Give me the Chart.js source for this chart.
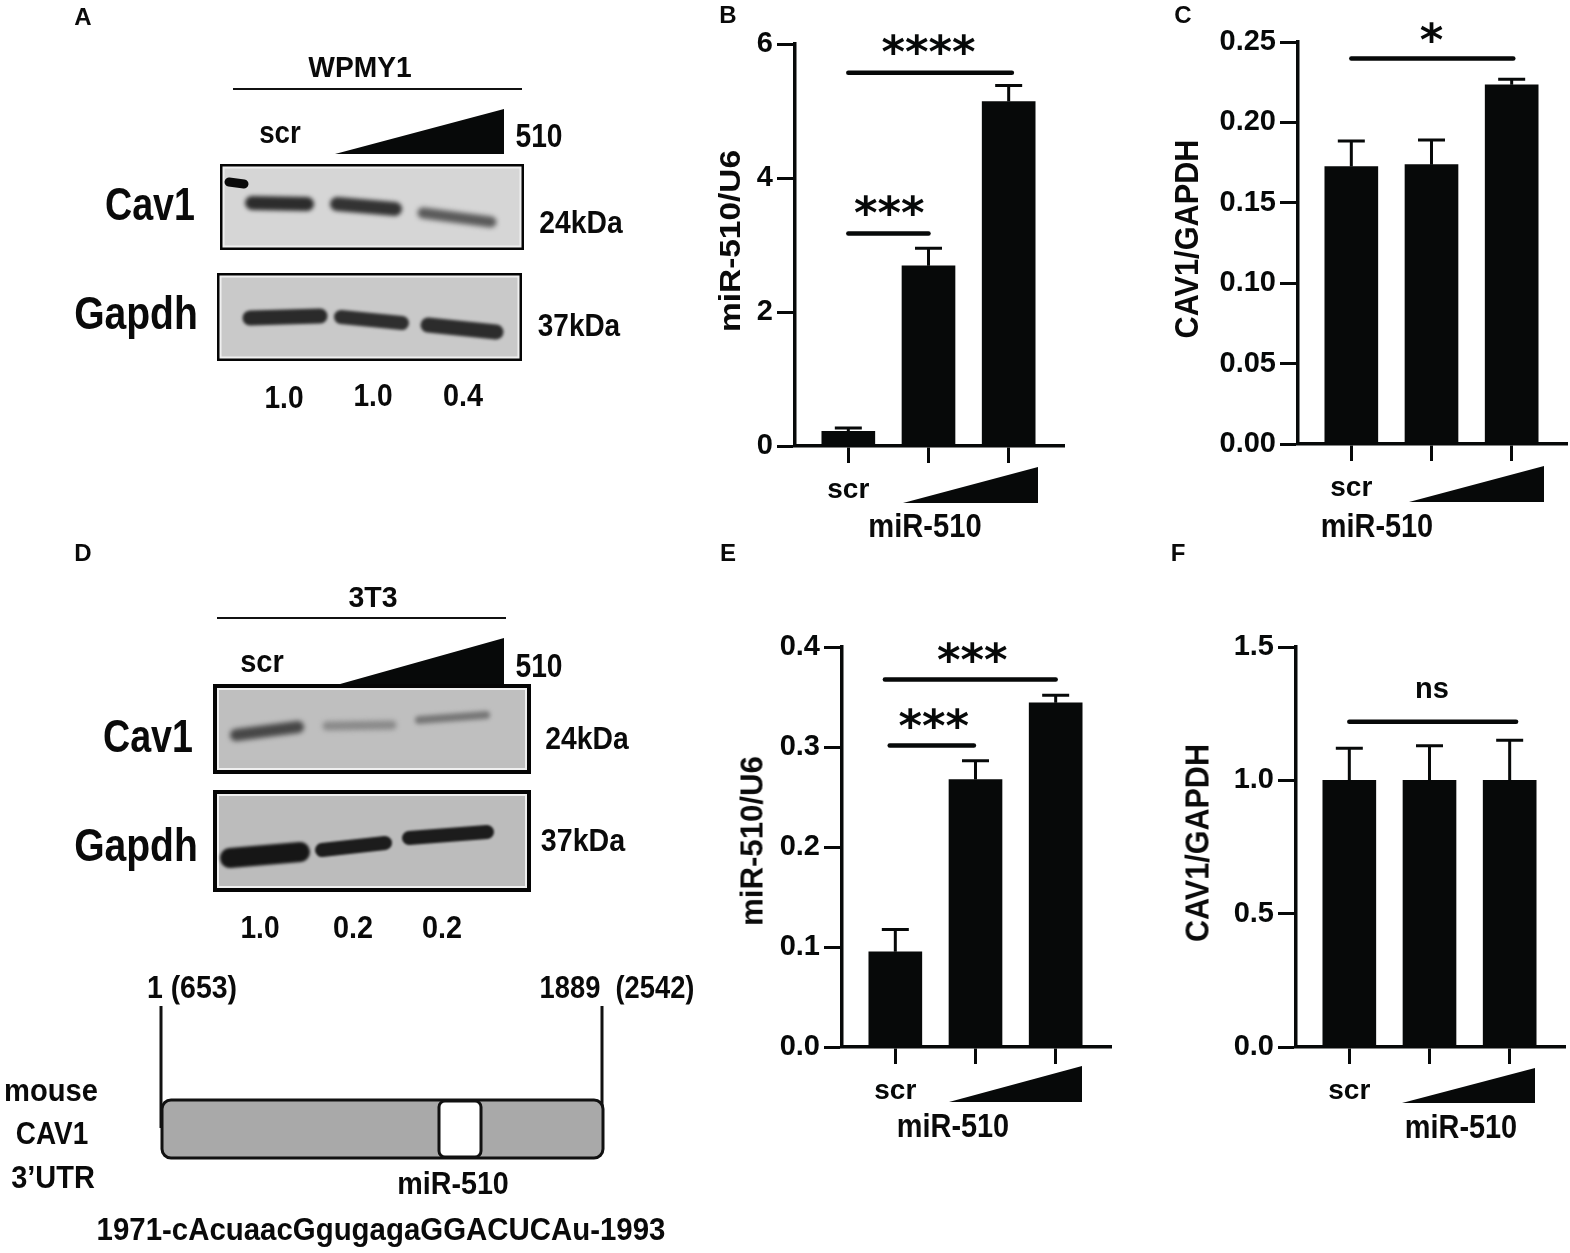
<!DOCTYPE html>
<html>
<head>
<meta charset="utf-8">
<title>miR-510 figure</title>
<script src="https://cdn.jsdelivr.net/npm/chart.js@4"></script>
<style>
    html, body { margin: 0; padding: 0; background: #fff; }
    #stage { position: relative; width: 1570px; height: 1253px; overflow: hidden; filter: blur(0.45px); }
    #stage canvas { position: absolute; }
    .txt {
        position: absolute;
        font-family: "Liberation Sans", Arial, sans-serif;
        font-weight: bold;
        line-height: 1;
        white-space: pre;
        color: #0a0a0a;
    }
</style>
</head>
<body>
<div id="stage">
    <canvas id="figure" width="1570" height="1253" style="left:0;top:0"></canvas>
    <canvas id="chart-b"></canvas>
    <canvas id="chart-c"></canvas>
    <canvas id="chart-e"></canvas>
    <canvas id="chart-f"></canvas>
</div>
<script>
// x axis: one position per bar
const xLabels = ["scr", "", ""];

// panel B
const ticksB = ["0", "2", "4", "6"];
const barsB = [0.22, 2.69, 5.14];
const capsB = [0.27, 2.95, 5.38];
const sigB = [[1, 3.04, 5.57, "****", 2.0, 5.99], [1, 2, 3.17, "***", 1.51, 3.59]];

// panel C
const ticksC = ["0.00", "0.05", "0.10", "0.15", "0.20", "0.25"];
const barsC = [0.1726, 0.1737, 0.2234];
const capsC = [0.1885, 0.189, 0.2269];
const sigC = [[1, 3.02, 0.2397, "*", 2.0, 0.2562]];

// panel E
const ticksE = ["0.0", "0.1", "0.2", "0.3", "0.4"];
const barsE = [0.0952, 0.2675, 0.3442];
const capsE = [0.1175, 0.2863, 0.3517];
const sigE = [[0.87, 3.0, 0.3675, "***", 1.96, 0.395], [0.93, 1.98, 0.3014, "***", 1.48, 0.329]];

// panel F
const ticksF = ["0.0", "0.5", "1.0", "1.5"];
const barsF = [1.0, 1.0, 1.0];
const capsF = [1.12, 1.13, 1.15];
const sigF = [[1, 3.08, 1.22, "ns", 2.03, 1.339]];

const ink = "#070909";
const xMin = 0.335;
const xMax = 3.69;
const plotWidth = 269;
const yScaleWidth = 100;
const xScaleHeight = 70;
const topPad = 32;

const errorBars = {
    id: "errorBars",
    afterDatasetsDraw(chart, args, opts) {
        const { ctx, scales } = chart;
        ctx.save();
        ctx.strokeStyle = ink;
        ctx.lineWidth = 3;
        opts.caps.forEach((cap, i) => {
            const x = scales.x.getPixelForValue(i + 1);
            const top = scales.y.getPixelForValue(opts.bars[i]);
            const end = scales.y.getPixelForValue(cap);
            ctx.beginPath();
            ctx.moveTo(x, top);
            ctx.lineTo(x, end);
            ctx.moveTo(x - 13.5, end);
            ctx.lineTo(x + 13.5, end);
            ctx.stroke();
        });
        ctx.restore();
    },
};

const significance = {
    id: "significance",
    afterDatasetsDraw(chart, args, opts) {
        const { ctx, scales } = chart;
        ctx.save();
        ctx.fillStyle = ink;
        ctx.strokeStyle = ink;
        ctx.lineCap = "round";
        ctx.textAlign = "center";
        opts.rows.forEach(([from, to, level, label, labelX, labelY]) => {
            const y = scales.y.getPixelForValue(level);
            ctx.lineWidth = 4.5;
            ctx.beginPath();
            ctx.moveTo(scales.x.getPixelForValue(from), y);
            ctx.lineTo(scales.x.getPixelForValue(to), y);
            ctx.stroke();
            ctx.font = label === "ns"
                ? "bold 29px 'Liberation Sans'"
                : "bold 45px 'DejaVu Sans'";
            const m = ctx.measureText(label);
            const mid = scales.y.getPixelForValue(labelY)
                + (m.actualBoundingBoxAscent - m.actualBoundingBoxDescent) / 2;
            ctx.fillText(label, scales.x.getPixelForValue(labelX), mid);
        });
        ctx.restore();
    },
};

// axisX and the two y pixels say where the plot area sits on the page
function barChart(id, axisX, yTop, yBottom, bars, caps, ticks, sig) {
    const canvas = document.getElementById(id);
    canvas.width = yScaleWidth + plotWidth + 6;
    canvas.height = topPad + (yBottom - yTop) + xScaleHeight;
    canvas.style.left = axisX - yScaleWidth + "px";
    canvas.style.top = yTop - topPad + "px";

    return new Chart(canvas, {
        type: "bar",
        data: {
            datasets: [
                {
                    data: bars.map((v, i) => ({ x: i + 1, y: v })),
                    backgroundColor: ink,
                    barThickness: 53,
                },
            ],
        },
        plugins: [errorBars, significance],
        options: {
            responsive: false,
            animation: false,
            layout: { padding: { top: topPad, right: 6, left: 0, bottom: 0 } },
            plugins: {
                legend: { display: false },
                tooltip: { enabled: false },
                errorBars: { bars: bars, caps: caps },
                significance: { rows: sig },
            },
            scales: {
                x: {
                    type: "linear",
                    offset: false,
                    min: xMin,
                    max: xMax,
                    afterBuildTicks: (s) => {
                        s.ticks = xLabels.map((l, i) => ({ value: i + 1 }));
                    },
                    afterFit: (s) => {
                        s.height = xScaleHeight;
                    },
                    border: { color: ink, width: 3.5 },
                    grid: {
                        offset: false,
                        drawOnChartArea: false,
                        tickLength: 17,
                        tickWidth: 3,
                        tickColor: ink,
                    },
                    ticks: {
                        autoSkip: false,
                        maxRotation: 0,
                        padding: 10,
                        color: ink,
                        font: { family: "Liberation Sans", size: 28, weight: "bold" },
                        callback: (v) => xLabels[v - 1],
                    },
                },
                y: {
                    min: Number(ticks[0]),
                    max: Number(ticks[ticks.length - 1]),
                    afterBuildTicks: (s) => {
                        s.ticks = ticks.map((l) => ({ value: Number(l) }));
                    },
                    afterFit: (s) => {
                        s.width = yScaleWidth;
                    },
                    border: { color: ink, width: 3.5 },
                    grid: {
                        drawOnChartArea: false,
                        tickLength: 18,
                        tickWidth: 3,
                        tickColor: ink,
                    },
                    ticks: {
                        padding: 4,
                        color: ink,
                        font: { family: "Liberation Sans", size: 29, weight: "bold" },
                        callback: (v, i) => ticks[i],
                    },
                },
            },
        },
    });
}

barChart("chart-b", 795, 44, 446, barsB, capsB, ticksB, sigB);
barChart("chart-c", 1298, 42, 444, barsC, capsC, ticksC, sigC);
barChart("chart-e", 842, 647, 1047, barsE, capsE, ticksE, sigE);
barChart("chart-f", 1296, 647, 1047, barsF, capsF, ticksF, sigF);

// ---- text around the charts, stretched to the measured width ----
const stage = document.getElementById("stage");

function label(text, cx, cy, size, width, rotate) {
    const el = document.createElement("div");
    el.className = "txt";
    el.textContent = text;
    el.style.fontSize = size + "px";
    stage.appendChild(el);
    const k = width ? width / el.offsetWidth : 1;
    el.style.left = cx + "px";
    el.style.top = cy + "px";
    el.style.transform = "translate(-50%,-50%)" + (rotate ? " rotate(-90deg)" : "") + " scaleX(" + k + ")";
}

// panel letters
label("A", 83, 17, 24);
label("B", 728, 15, 24);
label("C", 1183, 15, 24);
label("D", 83, 553, 24);
label("E", 728, 553, 24);
label("F", 1178, 553, 24);

// y titles
label("miR-510/U6", 730, 241, 29, 182, true);
label("CAV1/GAPDH", 1186, 239, 33, 199, true);
label("miR-510/U6", 752, 841, 31, 170, true);
label("CAV1/GAPDH", 1197, 843, 33, 198, true);

// x titles
label("miR-510", 925, 525, 33, 113);
label("miR-510", 1377, 525, 33, 112);
label("miR-510", 953, 1125, 33, 112);
label("miR-510", 1461, 1126, 33, 112);

// panel A
label("WPMY1", 360, 67, 29, 103);
label("scr", 280, 132, 31, 42);
label("510", 539, 135, 33, 47);
label("Cav1", 150, 204, 46, 90);
label("Gapdh", 136, 313, 46, 124);
label("24kDa", 581, 222, 31, 83);
label("37kDa", 579, 325, 31, 82);
label("1.0", 284, 397, 31, 39);
label("1.0", 373, 395, 31, 39);
label("0.4", 463, 395, 31, 40);

// panel D
label("3T3", 373, 597, 29, 49);
label("scr", 262, 661, 31, 44);
label("510", 539, 665, 33, 47);
label("Cav1", 148, 736, 46, 90);
label("Gapdh", 136, 845, 46, 124);
label("24kDa", 587, 738, 31, 83);
label("37kDa", 583, 840, 31, 84);
label("1.0", 260, 927, 31, 39);
label("0.2", 353, 927, 31, 40);
label("0.2", 442, 927, 31, 40);

// UTR schematic
label("1 (653)", 192, 987, 31, 90);
label("1889  (2542)", 617, 987, 31, 155);
label("mouse", 51, 1090, 31, 94);
label("CAV1", 52, 1133, 31, 72);
label("3\u2019UTR", 53, 1177, 31, 84);
label("miR-510", 453, 1183, 31, 112);
label("1971-cAcuaacGgugagaGGACUCAu-1993", 381, 1229, 32, 569);

// ---- blots and wedges ----
const fig = document.getElementById("figure").getContext("2d");

function wedge(x0, x1, yTop, yBottom) {
    fig.fillStyle = ink;
    fig.beginPath();
    fig.moveTo(x0, yBottom);
    fig.lineTo(x1, yTop);
    fig.lineTo(x1, yBottom);
    fig.closePath();
    fig.fill();
}

wedge(335, 504, 109, 154);
wedge(333, 504, 638, 686);
wedge(903, 1038, 467, 503);
wedge(1409, 1544, 466, 502);
wedge(949, 1082, 1066, 1102);
wedge(1402, 1535, 1068, 1103);

function blot(x0, y0, x1, y1, border, shade, bands) {
    fig.fillStyle = "#050505";
    fig.fillRect(x0, y0, x1 - x0, y1 - y0);
    fig.fillStyle = "#f0f0f0";
    fig.fillRect(x0 + border, y0 + border, x1 - x0 - 2 * border, y1 - y0 - 2 * border);
    fig.fillStyle = shade;
    fig.fillRect(x0 + border + 2, y0 + border + 2, x1 - x0 - 2 * border - 4, y1 - y0 - 2 * border - 4);
    bands.forEach(([xa, ya, xb, yb, thick, color, blur]) => {
        fig.save();
        fig.filter = "blur(" + blur + "px)";
        fig.strokeStyle = color;
        fig.lineWidth = thick;
        fig.lineCap = "round";
        fig.beginPath();
        fig.moveTo(xa, ya);
        fig.lineTo(xb, yb);
        fig.stroke();
        fig.restore();
    });
}

blot(220, 164, 524, 250, 2.5, "#d6d6d6", [
    [229, 182, 244, 184, 9, "#0a0a0a", 0.6],
    [252, 203, 307, 204, 14, "#2c2c2c", 2.2],
    [337, 204, 395, 209, 14, "#333333", 2.2],
    [423, 213, 491, 222, 11, "#5a5a5a", 2.4],
]);
blot(217, 273, 522, 361, 2.5, "#c9c9c9", [
    [250, 318, 320, 316, 15, "#2a2a2a", 1.6],
    [341, 317, 402, 323, 14, "#2e2e2e", 1.6],
    [428, 325, 496, 332, 15, "#2c2c2c", 1.8],
]);
blot(213, 684, 531, 774, 4, "#bfbfbf", [
    [236, 735, 298, 727, 12, "#474747", 2.4],
    [327, 726, 392, 725, 9, "#8a8a8a", 2.4],
    [419, 720, 486, 715, 8, "#777777", 2],
]);
blot(213, 790, 531, 892, 4, "#bcbcbc", [
    [230, 858, 300, 852, 20, "#161616", 1.4],
    [322, 850, 385, 843, 14, "#1c1c1c", 1.3],
    [409, 838, 487, 832, 14, "#1c1c1c", 1.3],
]);

// line over each blot group
fig.fillStyle = "#111";
fig.fillRect(233, 88, 289, 2);
fig.fillRect(217, 617, 289, 2);

// UTR schematic
fig.strokeStyle = "#111";
fig.lineWidth = 3;
fig.beginPath();
fig.moveTo(161, 1006);
fig.lineTo(161, 1128);
fig.moveTo(602, 1006);
fig.lineTo(602, 1128);
fig.stroke();
fig.fillStyle = "#a9a9a9";
fig.beginPath();
fig.roundRect(162, 1100, 441, 58, 9);
fig.fill();
fig.stroke();
fig.fillStyle = "#fff";
fig.beginPath();
fig.roundRect(439, 1101, 42, 56, 6);
fig.fill();
fig.stroke();
</script>
</body>
</html>
